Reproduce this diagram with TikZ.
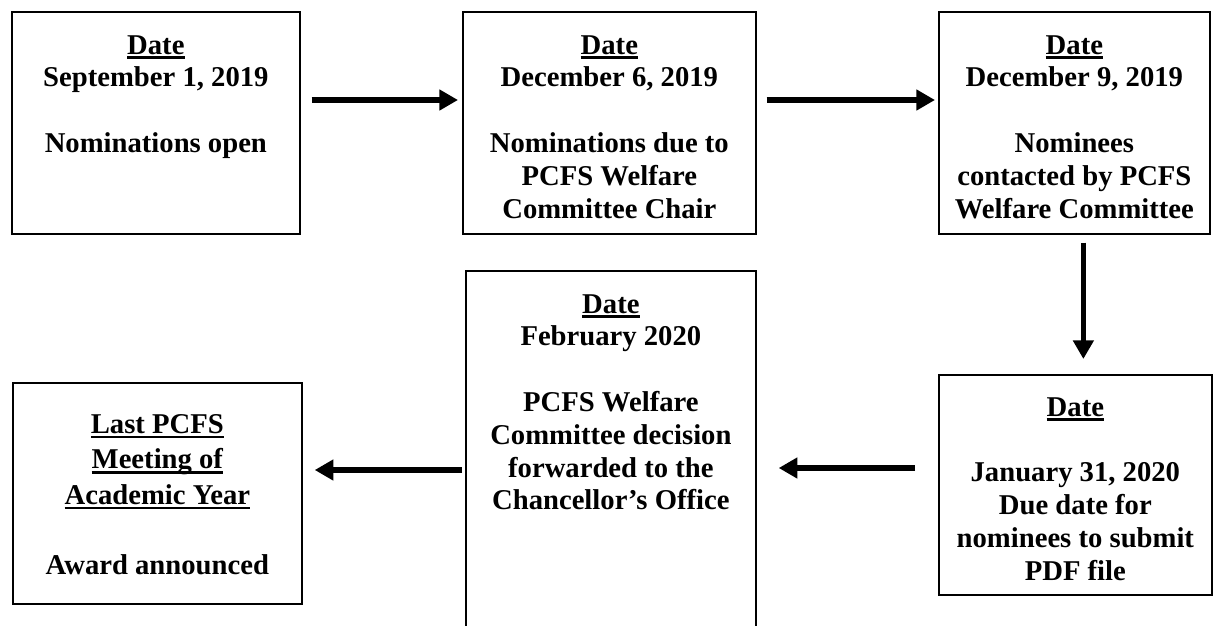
\documentclass[tikz,border=0pt]{standalone}
\usepackage{fontspec}
\setmainfont{Liberation Serif}
\usetikzlibrary{calc,arrows.meta}
\newcommand\myul[1]{\setbox0\hbox{#1}\rlap{\rule[-3.6pt]{\wd0}{1.8pt}}\box0}
\tikzset{
  stagebox/.style={draw, line width=1.3pt, inner sep=0pt, anchor=north west},
  stagetext/.style={anchor=north, inner sep=0pt, align=center,
     font=\fontsize{21.5pt}{24.6pt}\selectfont\bfseries},
  flowarrow/.style={line width=4pt, -{Triangle[length=14pt,width=15pt]}}
}
\begin{document}
\begin{tikzpicture}[x=0.75pt,y=-0.75pt]
\useasboundingbox (0,0) rectangle (1214,625);
% boxes
\node[stagebox, minimum width=288*0.75pt, minimum height=222*0.75pt] (A) at (11,11) {};
\node[stagebox, minimum width=293*0.75pt, minimum height=222*0.75pt] (B) at (462,11) {};
\node[stagebox, minimum width=271*0.75pt, minimum height=222*0.75pt] (C) at (938,11) {};
\node[stagebox, minimum width=273*0.75pt, minimum height=220*0.75pt] (D) at (938,374) {};
\node[stagebox, minimum width=290*0.75pt, minimum height=380*0.75pt] (E) at (465,270) {};
\node[stagebox, minimum width=289*0.75pt, minimum height=221*0.75pt] (F) at (12,382) {};
% texts
\node[stagetext] (tA) at ($(A.north)+(0,24)$) {\myul{Date}\\ September 1, 2019\\[24.6pt] Nominations open};
\node[stagetext] (tB) at ($(B.north)+(0,24)$) {\myul{Date}\\ December 6, 2019\\[24.6pt] Nominations due to\\ PCFS Welfare\\ Committee Chair};
\node[stagetext] (tC) at ($(C.north)+(0,24)$) {\myul{Date}\\ December 9, 2019\\[24.6pt] Nominees\\ contacted by PCFS\\ Welfare Committee};
\node[stagetext] (tD) at ($(D.north)+(0,23)$) {\myul{Date}\\[24.6pt] January 31, 2020\\ Due date for\\ nominees to submit\\ PDF file};
\node[stagetext] (tE) at ($(E.north)+(0,24)$) {\myul{Date}\\ February 2020\\[24.6pt] PCFS Welfare\\ Committee decision\\ forwarded to the\\ Chancellor’s Office};
\node[stagetext] (tF) at ($(F.north)+(0,32)$) {\myul{Last PCFS}\\[2pt] \myul{Meeting of}\\[2pt] \myul{Academic Year}\\[28pt] Award announced};
% arrows
\draw[flowarrow] ($(A.north east)+(11,89)$) -- ($(B.north west)+(-4,89)$);
\draw[flowarrow] ($(B.north east)+(10,89)$) -- ($(C.north west)+(-3,89)$);
\draw[flowarrow] ($(C.south)+(9,8)$) -- ($(D.north)+(8,-15)$);
\draw[flowarrow] ($(D.north west)+(-23,94)$) -- ($(E.north east)+(22,198)$);
\draw[flowarrow] ($(E.north west)+(-3,200)$) -- ($(F.north east)+(12,88)$);
\end{tikzpicture}
\end{document}
